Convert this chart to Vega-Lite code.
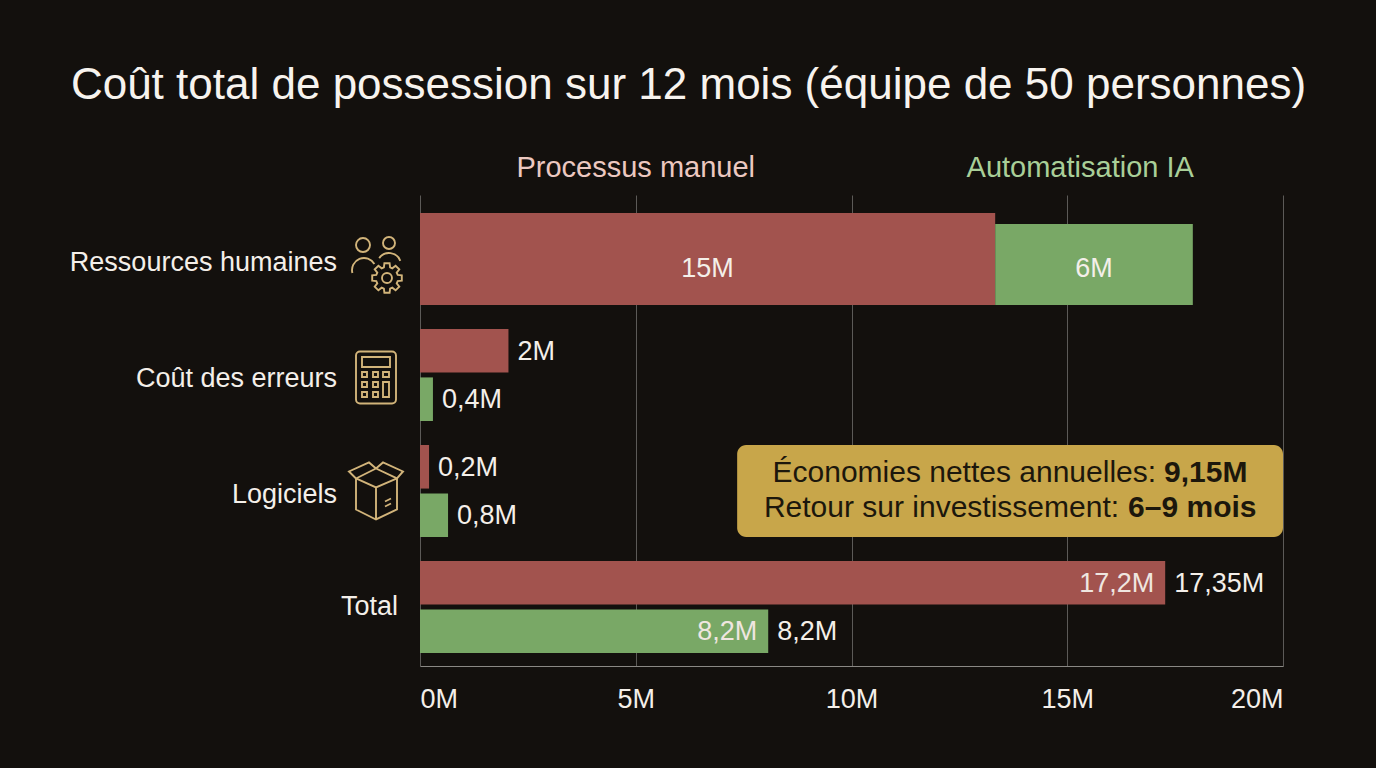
{
  "$schema": "https://vega.github.io/schema/vega-lite/v6.json",
  "width": 863,
  "height": 471,
  "autosize": {"type": "none"},
  "padding": {"left": 420, "top": 195, "right": 93, "bottom": 102},
  "background": "#13100d",
  "title": {
    "text": "Coût total de possession sur 12 mois (équipe de 50 personnes)",
    "anchor": "middle",
    "frame": "group",
    "dx": -163,
    "offset": 11,
    "baseline": "alphabetic",
    "font": "Liberation Sans",
    "fontSize": 44,
    "fontWeight": "normal",
    "color": "#f7f3ee"
  },
  "config": {
    "view": {"stroke": null},
    "text": {"font": "Liberation Sans"}
  },
  "datasets": {
    "costs": [
      {"cat": "Ressources humaines", "series": "Processus manuel", "start": 0, "end": 13.33, "label": "15M"},
      {"cat": "Ressources humaines", "series": "Automatisation IA", "start": 13.33, "end": 17.91, "label": "6M"},
      {"cat": "Coût des erreurs", "series": "Processus manuel", "start": 0, "end": 2.05, "label": "2M"},
      {"cat": "Coût des erreurs", "series": "Automatisation IA", "start": 0, "end": 0.3, "label": "0,4M"},
      {"cat": "Logiciels", "series": "Processus manuel", "start": 0, "end": 0.21, "label": "0,2M"},
      {"cat": "Logiciels", "series": "Automatisation IA", "start": 0, "end": 0.65, "label": "0,8M"},
      {"cat": "Total", "series": "Processus manuel", "start": 0, "end": 17.27, "label": "17,35M", "inner": "17,2M"},
      {"cat": "Total", "series": "Automatisation IA", "start": 0, "end": 8.07, "label": "8,2M", "inner": "8,2M"}
    ],
    "annotation": [
      {"cat": "Logiciels", "line": 1, "lead": "Économies nettes annuelles:", "figure": "9,15M"},
      {"cat": "Logiciels", "line": 2, "lead": "Retour sur investissement:", "figure": "6–9 mois"}
    ],
    "legend": [
      {"series": "Processus manuel"},
      {"series": "Automatisation IA"}
    ]
  },
  "data": {"name": "costs"},
  "layer": [
    {
      "transform": [{"filter": "datum.cat === 'Ressources humaines' && datum.series === 'Processus manuel'"}],
      "mark": {"type": "bar"},
      "encoding": {
        "y": {
          "field": "cat", "type": "nominal", "title": null, "axis": null,
          "scale": {"domain": ["Ressources humaines", "Coût des erreurs", "Logiciels", "Total"], "paddingInner": 0.207, "paddingOuter": 0.134, "align": 0.58}
        },
        "x": {
          "field": "start", "type": "quantitative", "title": null,
          "scale": {"domain": [0, 20], "nice": false},
          "axis": {
            "values": [0, 5, 10, 15, 20],
            "labelExpr": "datum.value + 'M'",
            "grid": true,
            "gridColor": "#5c5a57",
            "domainColor": "#8a8884",
            "ticks": false,
            "labelFont": "Liberation Sans",
            "labelFontSize": 27,
            "labelColor": "#f4efe9",
            "labelBaseline": "alphabetic",
            "labelPadding": 41
          }
        },
        "x2": {"field": "end"},
        "color": {
          "field": "series", "type": "nominal", "legend": null,
          "scale": {"domain": ["Processus manuel", "Automatisation IA"], "range": ["#a2534e", "#79a866"]}
        }
      }
    },
    {
      "transform": [{"filter": "datum.cat === 'Ressources humaines' && datum.series === 'Automatisation IA'"}],
      "mark": {"type": "bar", "height": {"band": 0.88}, "yOffset": 5.5},
      "encoding": {
        "y": {"field": "cat", "type": "nominal", "title": null},
        "x": {"field": "start", "type": "quantitative", "title": null},
        "x2": {"field": "end"},
        "color": {"field": "series", "type": "nominal", "legend": null}
      }
    },
    {
      "transform": [{"filter": "datum.cat !== 'Ressources humaines'"}],
      "mark": {"type": "bar"},
      "encoding": {
        "y": {"field": "cat", "type": "nominal", "title": null},
        "yOffset": {
          "field": "series", "type": "nominal",
          "scale": {"domain": ["Processus manuel", "Automatisation IA"], "paddingInner": 0.1, "paddingOuter": 0}
        },
        "x": {"field": "start", "type": "quantitative", "title": null},
        "x2": {"field": "end"},
        "color": {"field": "series", "type": "nominal", "legend": null}
      }
    },
    {
      "data": {"name": "annotation"},
      "transform": [{"filter": "datum.line === 1"}],
      "mark": {"type": "rect", "fill": "#c8a64a", "cornerRadius": 9},
      "encoding": {
        "y": {"field": "cat", "type": "nominal", "title": null},
        "x": {"datum": 7.35, "type": "quantitative"},
        "x2": {"datum": 20}
      }
    },
    {
      "data": {"name": "annotation"},
      "transform": [{"filter": "datum.line === 1"}],
      "mark": {"type": "text", "align": "right", "baseline": "alphabetic", "dx": 146, "dy": -8.5, "fontSize": 30, "color": "#1c170c"},
      "encoding": {
        "y": {"field": "cat", "type": "nominal", "title": null},
        "x": {"datum": 13.675, "type": "quantitative"},
        "text": {"field": "lead"}
      }
    },
    {
      "data": {"name": "annotation"},
      "transform": [{"filter": "datum.line === 1"}],
      "mark": {"type": "text", "align": "left", "baseline": "alphabetic", "dx": 154, "dy": -8.5, "fontSize": 30, "fontWeight": "bold", "color": "#1c170c"},
      "encoding": {
        "y": {"field": "cat", "type": "nominal", "title": null},
        "x": {"datum": 13.675, "type": "quantitative"},
        "text": {"field": "figure"}
      }
    },
    {
      "data": {"name": "annotation"},
      "transform": [{"filter": "datum.line === 2"}],
      "mark": {"type": "text", "align": "right", "baseline": "alphabetic", "dx": 109, "dy": 26.5, "fontSize": 30, "color": "#1c170c"},
      "encoding": {
        "y": {"field": "cat", "type": "nominal", "title": null},
        "x": {"datum": 13.675, "type": "quantitative"},
        "text": {"field": "lead"}
      }
    },
    {
      "data": {"name": "annotation"},
      "transform": [{"filter": "datum.line === 2"}],
      "mark": {"type": "text", "align": "left", "baseline": "alphabetic", "dx": 118, "dy": 26.5, "fontSize": 30, "fontWeight": "bold", "color": "#1c170c"},
      "encoding": {
        "y": {"field": "cat", "type": "nominal", "title": null},
        "x": {"datum": 13.675, "type": "quantitative"},
        "text": {"field": "figure"}
      }
    },
    {
      "transform": [
        {"filter": "datum.cat === 'Ressources humaines'"},
        {"calculate": "(datum.start + datum.end) / 2", "as": "mid"}
      ],
      "mark": {"type": "text", "align": "center", "baseline": "middle", "dy": 10, "fontSize": 27, "color": "#f4efe9"},
      "encoding": {
        "y": {"field": "cat", "type": "nominal", "title": null},
        "x": {"field": "mid", "type": "quantitative", "title": null},
        "text": {"field": "label"}
      }
    },
    {
      "transform": [{"filter": "datum.cat !== 'Ressources humaines'"}],
      "mark": {"type": "text", "align": "left", "baseline": "middle", "dx": 9, "dy": 1, "fontSize": 27, "color": "#f4efe9"},
      "encoding": {
        "y": {"field": "cat", "type": "nominal", "title": null},
        "yOffset": {"field": "series", "type": "nominal"},
        "x": {"field": "end", "type": "quantitative", "title": null},
        "text": {"field": "label"}
      }
    },
    {
      "transform": [{"filter": "isValid(datum.inner)"}],
      "mark": {"type": "text", "align": "right", "baseline": "middle", "dx": -11, "dy": 1, "fontSize": 27, "color": "#efe6e0"},
      "encoding": {
        "y": {"field": "cat", "type": "nominal", "title": null},
        "yOffset": {"field": "series", "type": "nominal"},
        "x": {"field": "end", "type": "quantitative", "title": null},
        "text": {"field": "inner"}
      }
    },
    {
      "transform": [{"filter": "datum.series === 'Processus manuel' && datum.cat !== 'Total'"}],
      "mark": {"type": "text", "align": "right", "baseline": "middle", "dx": -83, "dy": 4, "fontSize": 27, "color": "#f4efe9"},
      "encoding": {
        "y": {"field": "cat", "type": "nominal", "title": null},
        "x": {"datum": 0, "type": "quantitative"},
        "text": {"field": "cat"}
      }
    },
    {
      "transform": [{"filter": "datum.series === 'Processus manuel' && datum.cat === 'Total'"}],
      "mark": {"type": "text", "align": "right", "baseline": "middle", "dx": -22, "dy": 0, "fontSize": 27, "color": "#f4efe9"},
      "encoding": {
        "y": {"field": "cat", "type": "nominal", "title": null},
        "x": {"datum": 0, "type": "quantitative"},
        "text": {"field": "cat"}
      }
    },
    {
      "transform": [{"filter": "datum.series === 'Processus manuel' && datum.cat !== 'Total'"}],
      "mark": {"type": "point", "filled": false, "size": 4, "stroke": "#d2b47a", "strokeWidth": 1.9, "opacity": 1},
      "encoding": {
        "y": {"field": "cat", "type": "nominal", "title": null},
        "x": {"datum": 0, "type": "quantitative"},
        "shape": {
          "field": "cat", "type": "nominal", "legend": null,
          "scale": {
            "domain": ["Ressources humaines", "Coût des erreurs", "Logiciels"],
            "range": [
              "M -50 -14 A 7 7 0 1 0 -64 -14 A 7 7 0 1 0 -50 -14 Z M -25 -16 A 6 6 0 1 0 -37 -16 A 6 6 0 1 0 -25 -16 Z M -67.6 14 A 12 12 0 0 1 -45.6 5 M -40.8 -0.9 A 12 12 0 0 1 -19.7 1.9 M -22.3 15.9 L -18.2 16.4 L -18.2 21.6 L -22.3 22.1 L -23.3 24.3 L -20.7 27.6 L -24.4 31.3 L -27.7 28.7 L -29.9 29.7 L -30.4 33.8 L -35.6 33.8 L -36.1 29.7 L -38.3 28.7 L -41.6 31.3 L -45.3 27.6 L -42.7 24.3 L -43.7 22.1 L -47.8 21.6 L -47.8 16.4 L -43.7 15.9 L -42.7 13.7 L -45.3 10.4 L -41.6 6.7 L -38.3 9.3 L -36.1 8.3 L -35.6 4.2 L -30.4 4.2 L -29.9 8.3 L -27.7 9.3 L -24.4 6.7 L -20.7 10.4 L -23.3 13.7 Z M -28 19 A 5 5 0 1 0 -38 19 A 5 5 0 1 0 -28 19 Z",
              "M -60 -23.5 H -28 A 4 4 0 0 1 -24 -19.5 V 24.5 A 4 4 0 0 1 -28 28.5 H -60 A 4 4 0 0 1 -64 24.5 V -19.5 A 4 4 0 0 1 -60 -23.5 Z M -58 -18 H -30 V -8 H -58 Z M -58 -3 H -53 V 2 H -58 Z M -47 -3 H -42 V 2 H -47 Z M -37 -3 H -31 V 2 H -37 Z M -58 7 H -53 V 12 H -58 Z M -47 7 H -42 V 12 H -47 Z M -37 7 H -31 V 22 H -37 Z M -58 17 H -53 V 22 H -58 Z M -47 17 H -42 V 22 H -47 Z",
              "M -64 -12.5 V 18.5 L -44 28.5 L -23 18.5 V -12.5 M -64 -12.5 L -44 -3.5 L -23 -12.5 M -44 -3.5 V 28.5 M -64 -12.5 L -44 -22.5 L -23 -12.5 M -64 -12.5 L -71 -19.5 L -51 -28.5 L -44 -22.5 M -23 -12.5 L -17 -19.5 L -37 -28.5 L -44 -22.5 M -35 10.5 L -29 7.5 M -35 15.5 L -29 12.5"
            ]
          }
        }
      }
    },
    {
      "data": {"name": "legend"},
      "transform": [{"filter": "datum.series === 'Processus manuel'"}],
      "mark": {"type": "text", "align": "center", "baseline": "alphabetic", "dy": -82, "fontSize": 29, "color": "#ecc8c0"},
      "encoding": {
        "y": {"datum": "Ressources humaines", "type": "nominal"},
        "x": {"datum": 5, "type": "quantitative"},
        "text": {"field": "series"}
      }
    },
    {
      "data": {"name": "legend"},
      "transform": [{"filter": "datum.series === 'Automatisation IA'"}],
      "mark": {"type": "text", "align": "center", "baseline": "alphabetic", "dy": -82, "fontSize": 29, "color": "#a9cf98"},
      "encoding": {
        "y": {"datum": "Ressources humaines", "type": "nominal"},
        "x": {"datum": 15.3, "type": "quantitative"},
        "text": {"field": "series"}
      }
    }
  ]
}
